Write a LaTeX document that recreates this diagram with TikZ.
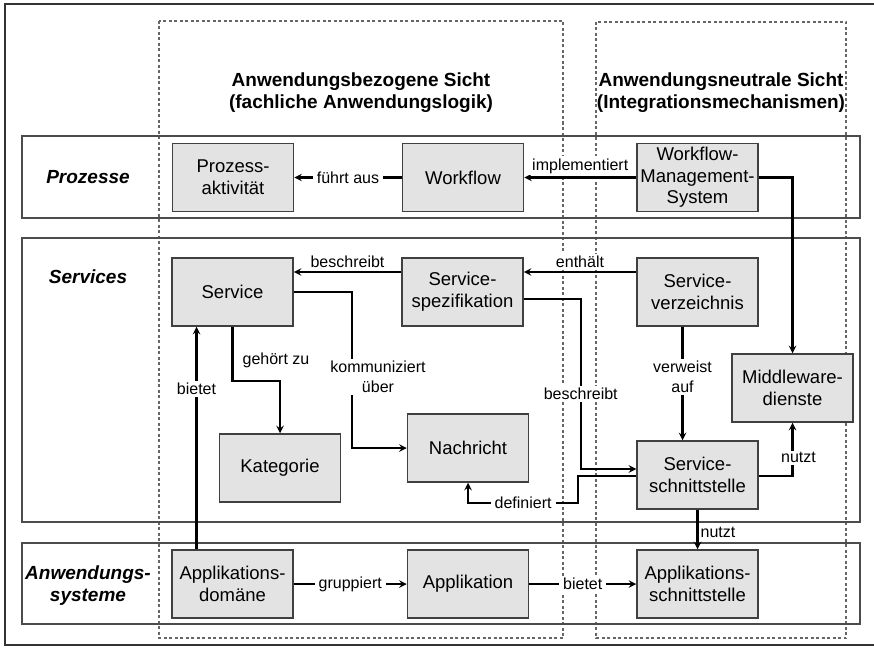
\documentclass[tikz,border=0pt]{standalone}
\usepackage{fontspec}
\setmainfont{Liberation Sans}
\usetikzlibrary{arrows}

\begin{document}
\begin{tikzpicture}[x=1pt,y=-1pt,
        box/.style={draw=black!75,fill=black!11,line width=1.5pt,rectangle,
        minimum height=68pt,minimum width=121pt,inner sep=0pt,text centered,
        align=center,font=\fontsize{18.5}{22}\selectfont},
        rel/.style={fill=white,inner xsep=4pt,inner ysep=2pt,align=center,
        font=\fontsize{16}{20}\selectfont},
        conn/.style={line width=2.3pt,->,>=stealth},
        layerbox/.style={draw=black!70,line width=1.5pt},
        viewbox/.style={draw=black!60,line width=1.3pt,dash pattern=on 3pt off 2.5pt},
        head/.style={align=center,font=\fontsize{19}{22}\selectfont\bfseries},
        layername/.style={align=center,font=\fontsize{19}{22}\selectfont\bfseries\itshape}]
        \useasboundingbox (0,0) rectangle (874,647);
        \draw[line width=2.6pt,black!80] (874,4) -- (5,4) -- (5,645) -- (874,645);

        \draw[viewbox] (159,21) rectangle (563,638);
        \draw[viewbox] (596,22) rectangle (846,638);
        \node[head] (bezogen) at (361,93) {Anwendungsbezogene Sicht\\(fachliche Anwendungslogik)};
        \node[head] (neutral) at (721,93) {Anwendungsneutrale Sicht\\(Integrationsmechanismen)};

        \draw[layerbox] (22,136) rectangle (860,218);
        \draw[layerbox] (22,238) rectangle (860,522);
        \draw[layerbox] (22,543) rectangle (860,624);
        \node[layername] (prozesse) at (88,177) {Prozesse};
        \node[layername] (services) at (88,277) {Services};
        \node[layername] (anwsys) at (88,586) {Anwendungs-\\systeme};

        \node[box] (prozakt) at (233,177.5) {Prozess-\\aktivität};
        \node[box] (workflow) at (463,177.5) {Workflow};
        \node[box,font=\fontsize{18.5}{21.5}\selectfont] (wfms) at (697.5,177.5) {Workflow-\\Management-\\System};
        \node[box] (service) at (232.5,292) {Service};
        \node[box] (sspez) at (462.5,292) {Service-\\spezifikation};
        \node[box] (sverz) at (697.5,292) {Service-\\verzeichnis};
        \node[box] (mwdienste) at (792.5,388) {Middleware-\\dienste};
        \node[box] (kategorie) at (280,468) {Kategorie};
        \node[box] (nachricht) at (468,448) {Nachricht};
        \node[box] (sschnitt) at (697.5,475) {Service-\\schnittstelle};
        \node[box] (appdomaene) at (232.5,584) {Applikations-\\domäne};
        \node[box] (applikation) at (468,584) {Applikation};
        \node[box] (appschnitt) at (697.5,584) {Applikations-\\schnittstelle};

        \draw[conn] (workflow) -- node[rel] {führt aus} (prozakt);
        \draw[conn] (wfms) -- node[rel,above,yshift=1pt] {implementiert} (workflow);
        \draw[conn] (wfms.east) -| (mwdienste.north);
        \draw[conn] ([yshift=20pt]sverz.west) -- node[rel,above,yshift=1pt] {enthält} ([yshift=20pt]sspez.east);
        \draw[conn] ([yshift=20pt]sspez.west) -- node[rel,above,yshift=1pt] {beschreibt} ([yshift=20pt]service.east);
        \draw[conn] (service.east) -- ++(58,0) |- (nachricht.west);
        \node[rel] (kommlabel) at (378,377) {kommuniziert\\über};
        \draw[conn] (service.south) -- ++(0,54) -| (kategorie.north);
        \node[rel] (gehoertlabel) at (276,360) {gehört zu};
        \draw[conn] ([xshift=-36pt]appdomaene.north) -- node[rel,pos=0.72] {bietet} ([xshift=-36pt]service.south);
        \draw[conn] ([yshift=-7pt]sspez.east) -- ++(57,0) |- node[rel,pos=0.28] {beschreibt} ([yshift=6pt]sschnitt.west);
        \draw[conn] ([yshift=-1pt]sschnitt.west) -- ++(-58,0) -- ++(0,27) -| node[rel,pos=0.25] {definiert} (nachricht.south);
        \draw[conn] ([xshift=-15pt]sverz.south) -- node[rel,pos=0.44] {verweist\\auf} ([xshift=-15pt]sschnitt.north);
        \draw[conn] ([yshift=-1pt]sschnitt.east) -| node[rel,pos=0.67,xshift=6pt] {nutzt} (mwdienste.south);
        \draw[conn] (sschnitt.south) -- node[rel,right,pos=0.57,xshift=1pt,inner xsep=1pt] {nutzt} (appschnitt.north);
        \draw[conn] (appdomaene) -- node[rel] {gruppiert} (applikation);
        \draw[conn] (applikation) -- node[rel] {bietet} (appschnitt);
    \end{tikzpicture}
\end{document}
